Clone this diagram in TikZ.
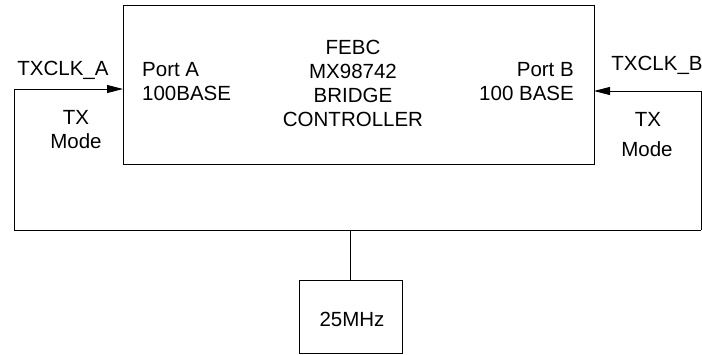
\documentclass[tikz,border=0pt]{standalone}
\usepackage{fontspec}
\setmainfont{Liberation Sans}
\usetikzlibrary{arrows.meta}
\begin{document}
\begin{tikzpicture}[x=1pt,y=-1pt,
  lbl/.style={inner sep=0pt,font=\fontsize{20.5}{24}\selectfont,align=center},
  box/.style={draw,line width=0.9pt,inner sep=0pt},
  wire/.style={line width=0.9pt},
  arr/.style={wire,-{Triangle[length=16pt,width=8pt]}}]
\useasboundingbox (0,0) rectangle (702,354);
\node[box,minimum width=471pt,minimum height=159pt] (main) at (358.5,84.5) {};
\node[box,minimum width=103pt,minimum height=73pt] (osc) at (350.5,316.5) {};
\node[lbl] (osct) at (352,319) {25MHz};
\node[lbl] (core) at (353,83) {FEBC\\MX98742\\BRIDGE\\CONTROLLER};
\node[lbl,anchor=west,align=left] (porta) at (142,82) {Port A\\100BASE};
\node[lbl,anchor=east,align=right] (portb) at (574,82) {Port B\\100 BASE};
\node[lbl] (txa) at (63,70) {TXCLK\_A};
\node[lbl] (txb) at (657,65) {TXCLK\_B};
\node[lbl] (modea) at (76,130) {TX\\Mode};
\node[lbl] (tb) at (648,119) {TX};
\node[lbl] (mb) at (647,149) {Mode};
\coordinate (la) at (14,230);
\coordinate (rb) at (701,230);
\coordinate (pa) at (123,89);
\coordinate (pb) at (594,91);
\draw[arr] (la) |- (pa);
\draw[arr] (rb) |- (pb);
\draw[wire] (la) -- (rb);
\draw[wire] (osc.north) -- (osc.north |- la);
\end{tikzpicture}
\end{document}
